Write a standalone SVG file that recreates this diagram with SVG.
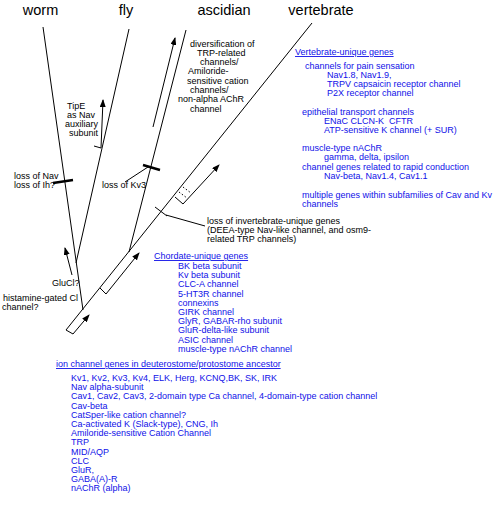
<svg xmlns="http://www.w3.org/2000/svg" width="500" height="511" viewBox="0 0 500 511">
<defs>
<style>
.t{font-family:"Liberation Sans",Arial,sans-serif;font-size:9px;fill:#000}
.b{font-family:"Liberation Sans",Arial,sans-serif;font-size:9px;fill:#1010e8}
.h{font-family:"Liberation Sans",Arial,sans-serif;font-size:14.5px;fill:#000;text-anchor:middle}
.u{text-decoration:underline}
.ln{stroke:#000;stroke-width:1;fill:none}
.ar{stroke:#000;stroke-width:1;fill:none;marker-end:url(#ah)}
.mk{stroke:#000;stroke-width:2.5;fill:none}
</style>
<marker id="ah" markerWidth="8" markerHeight="6" refX="7" refY="3" orient="auto" markerUnits="userSpaceOnUse">
<path d="M0,0 L8,3 L0,6 Z" fill="#000"/>
</marker>
</defs>
<rect width="500" height="511" fill="#fff"/>

<g id="taxa">
<text class="h" x="40.5" y="15">worm</text>
<text class="h" x="126" y="15">fly</text>
<text class="h" x="224" y="15">ascidian</text>
<text class="h" x="321" y="15">vertebrate</text>
</g>

<g id="connectors">
<line class="ln" x1="43" y1="27" x2="83" y2="310"/>
<line class="ln" x1="129" y1="29" x2="76" y2="263"/>
<line class="ln" x1="186" y1="30" x2="129" y2="252"/>
<line class="ln" x1="66" y1="330" x2="312" y2="23"/>
<polyline class="ar" points="66,330 73,334 89,315"/>
<polyline class="ar" points="100,288 106,294 139,253"/>
<polyline class="ar" points="175,197 183,204 219,165"/>
<line class="ln" x1="183" y1="187" x2="191" y2="193" stroke-dasharray="1.5,2"/>
<line class="ln" x1="179" y1="192" x2="187" y2="198" stroke-dasharray="1.5,2"/>
<polyline class="ar" points="94,146 101,148 103,100"/>
<line class="ar" x1="153" y1="127" x2="175" y2="38"/>
<line class="ar" x1="72" y1="275" x2="65" y2="248"/>
<line class="mk" x1="53" y1="183" x2="73" y2="180"/>
<line class="mk" x1="143" y1="165" x2="160" y2="170"/>
<line class="ln" x1="148" y1="167" x2="125" y2="182"/>
<line class="ln" x1="155" y1="207" x2="167" y2="216" stroke-width="5"/>
<line class="ln" x1="166" y1="215" x2="205" y2="226"/>
</g>

<g id="diversification">
<text class="t" x="190" y="47">diversification of</text>
<text class="t" x="197" y="56">TRP-related</text>
<text class="t" x="200" y="65">channels/</text>
<text class="t" x="188" y="74">Amiloride-</text>
<text class="t" x="187" y="84">sensitive cation</text>
<text class="t" x="190" y="93">channels/</text>
<text class="t" x="178" y="102">non-alpha AChR</text>
<text class="t" x="190" y="112">channel</text>
</g>

<g id="tipe">
<text class="t" x="67" y="109">TipE</text>
<text class="t" x="67" y="118">as Nav</text>
<text class="t" x="65" y="127">auxiliary</text>
<text class="t" x="69" y="136">subunit</text>
</g>

<g id="loss-nav">
<text class="t" x="14" y="179">loss of Nav</text>
<text class="t" x="14" y="188">loss of Ih?</text>
</g>
<g id="loss-kv3"><text class="t" x="102" y="188">loss of Kv3</text></g>
<g id="glucl"><text class="t" x="52" y="286">GluCl?</text></g>
<g id="histamine">
<text class="t" x="3" y="301">histamine-gated Cl</text>
<text class="t" x="2" y="310">channel?</text>
</g>
<g id="loss-invertebrate">
<text class="t" x="207" y="224">loss of invertebrate-unique genes</text>
<text class="t" x="207" y="233">(DEEA-type Nav-like channel, and osm9-</text>
<text class="t" x="207" y="242">related TRP channels)</text>
</g>

<g id="vertebrate-genes">
<text class="b u" x="295" y="55">Vertebrate-unique genes</text>
<text class="b" x="305" y="69">channels for pain sensation</text>
<text class="b" x="327" y="78">Nav1.8, Nav1.9,</text>
<text class="b" x="327" y="87">TRPV capsaicin receptor channel</text>
<text class="b" x="327" y="96">P2X receptor channel</text>
<text class="b" x="302" y="115">epithelial transport channels</text>
<text class="b" x="324" y="124" xml:space="preserve">ENaC CLCN-K  CFTR</text>
<text class="b" x="324" y="133">ATP-sensitive K channel (+ SUR)</text>
<text class="b" x="302" y="151">muscle-type nAChR</text>
<text class="b" x="324" y="160">gamma, delta, ipsilon</text>
<text class="b" x="302" y="170">channel genes related to rapid conduction</text>
<text class="b" x="324" y="179">Nav-beta, Nav1.4, Cav1.1</text>
<text class="b" x="302" y="198">multiple genes within subfamilies of Cav and Kv</text>
<text class="b" x="302" y="207">channels</text>
</g>

<g id="chordate-genes">
<text class="b u" x="154" y="259">Chordate-unique genes</text>
<text class="b" x="178" y="269">BK beta subunit</text>
<text class="b" x="178" y="278.2">Kv beta subunit</text>
<text class="b" x="178" y="287.4">CLC-A channel</text>
<text class="b" x="178" y="296.6">5-HT3R channel</text>
<text class="b" x="178" y="305.8">connexins</text>
<text class="b" x="178" y="315">GIRK channel</text>
<text class="b" x="178" y="324.2">GlyR, GABAR-rho subunit</text>
<text class="b" x="178" y="333.4">GluR-delta-like subunit</text>
<text class="b" x="178" y="342.6">ASIC channel</text>
<text class="b" x="178" y="351.8">muscle-type nAChR channel</text>
</g>

<g id="ancestor-genes">
<text class="b u" x="56" y="367">ion channel genes in deuterostome/protostome ancestor</text>
<text class="b" x="71" y="381">Kv1, Kv2, Kv3, Kv4, ELK, Herg, KCNQ,BK, SK, IRK</text>
<text class="b" x="71" y="390.2">Nav alpha-subunit</text>
<text class="b" x="71" y="399.4">Cav1, Cav2, Cav3, 2-domain type Ca channel, 4-domain-type cation channel</text>
<text class="b" x="71" y="408.6">Cav-beta</text>
<text class="b" x="71" y="417.8">CatSper-like cation channel?</text>
<text class="b" x="71" y="427">Ca-activated K (Slack-type), CNG, Ih</text>
<text class="b" x="71" y="436.2">Amiloride-sensitive Cation Channel</text>
<text class="b" x="71" y="445.4">TRP</text>
<text class="b" x="71" y="454.6">MID/AQP</text>
<text class="b" x="71" y="463.8">CLC</text>
<text class="b" x="71" y="473">GluR,</text>
<text class="b" x="71" y="482.2">GABA(A)-R</text>
<text class="b" x="71" y="491.4">nAChR (alpha)</text>
</g>
</svg>
